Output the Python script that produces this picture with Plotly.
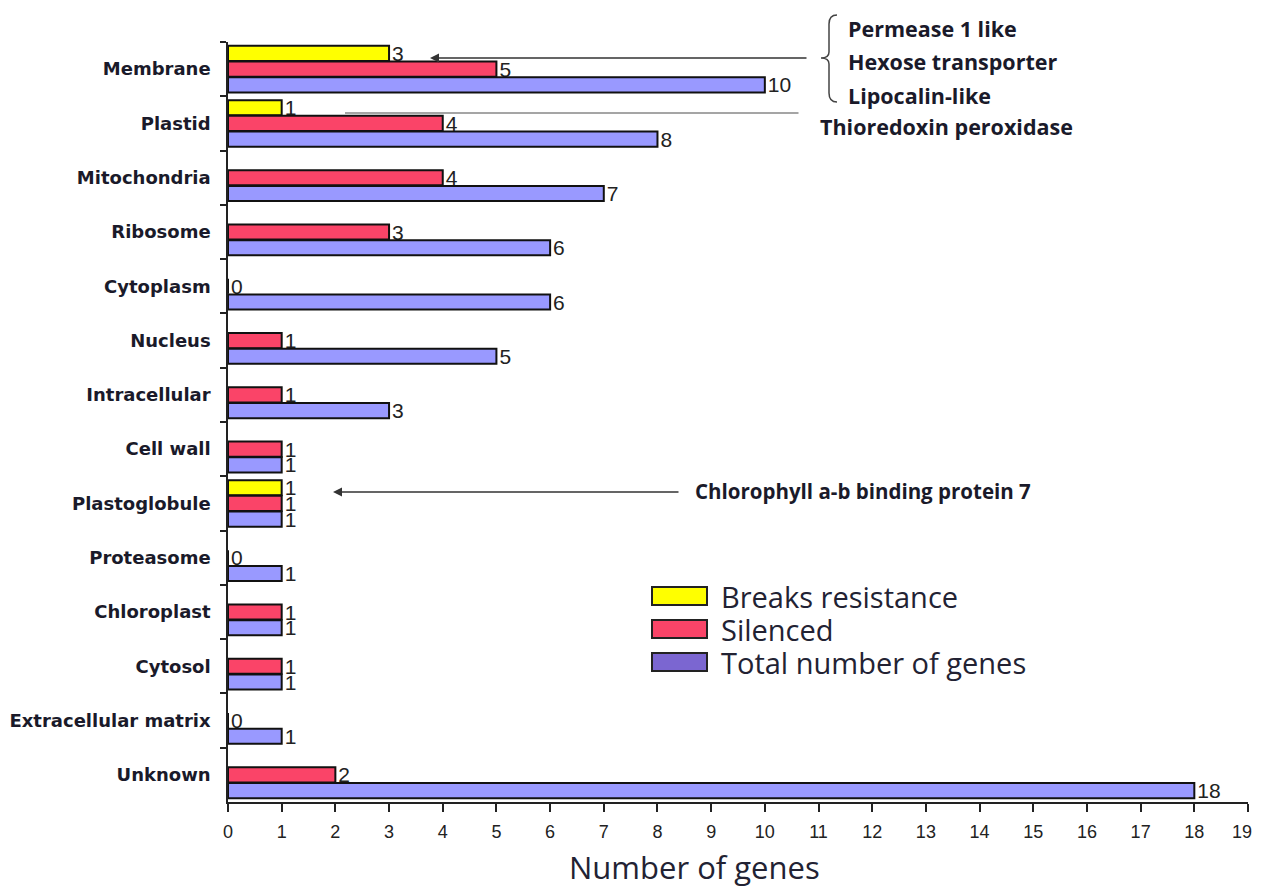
import plotly.graph_objects as go

categories = ["Membrane", "Plastid", "Mitochondria", "Ribosome", "Cytoplasm", "Nucleus",
              "Intracellular", "Cell wall", "Plastoglobule", "Proteasome", "Chloroplast",
              "Cytosol", "Extracellular matrix", "Unknown"]
breaks_resistance = [3, 1, None, None, None, None, None, None, 1, None, None, None, None, None]
silenced = [5, 4, 4, 3, 0, 1, 1, 1, 1, 0, 1, 1, 0, 2]
total_genes = [10, 8, 7, 6, 6, 5, 3, 1, 1, 1, 1, 1, 1, 18]
x_ticks = list(range(0, 20))

OFF = 8  # page body margin
W, H = 1263 - OFF, 890 - OFF
# plot area in page pixel coordinates
L, R, T, B = 228, 1248, 42, 802


def px(X):
    return (X - L) / (R - L)


def py(Y):
    return (B - Y) / (B - T)


series = [
    ("Breaks resistance", breaks_resistance, "#FFFF00"),
    ("Silenced", silenced, "#FA4468"),
    ("Total number of genes", total_genes, "#9999FF"),
]

fig = go.Figure()
for name, vals, col in series:
    fig.add_trace(go.Bar(
        y=categories, x=vals, orientation="h", name=name,
        marker=dict(color=col, line=dict(color="#111111", width=2)),
        text=[None if v is None else str(v) for v in vals],
        textposition="outside", textangle=0, constraintext="none",
        textfont=dict(family="Liberation Sans Narrow, Arial Narrow, Liberation Sans", size=21, color="#222222"),
        cliponaxis=False, showlegend=False,
    ))

tick_font = dict(family="Liberation Sans Narrow, Arial Narrow, Liberation Sans", size=18, color="#222222")
# last tick label drawn separately so it stays inside the visible page edge
tick_text = [str(t) for t in x_ticks[:-1]] + [""]

fig.update_layout(
    width=W, height=H,
    margin=dict(l=L - OFF, r=W - (R - OFF), t=T - OFF, b=H - (B - OFF), autoexpand=False),
    paper_bgcolor="white", plot_bgcolor="white",
    barmode="group", bargap=0.13, bargroupgap=0.04,
    showlegend=False,
)
fig.update_xaxes(
    range=[0, 19], tickvals=x_ticks, ticktext=tick_text,
    showline=True, linecolor="#222222", linewidth=1.5,
    ticks="outside", ticklen=8, tickwidth=1.5, tickcolor="#222222",
    showgrid=False, zeroline=False, automargin=False, ticklabeloverflow="allow",
    tickfont=tick_font, ticklabelstandoff=5,
)
fig.add_annotation(text=str(x_ticks[-1]), x=x_ticks[-1], y=py(832), xref="x", yref="paper",
                   showarrow=False, xanchor="right", yanchor="middle", xshift=6,
                   font=tick_font)
fig.update_yaxes(
    categoryorder="array", categoryarray=categories, autorange="reversed",
    showline=True, linecolor="#222222", linewidth=1.5,
    ticks="outside", ticklen=6, tickwidth=1.5, tickcolor="#222222", tickson="boundaries",
    showgrid=False, zeroline=False, automargin=False, ticklabeloverflow="allow",
    tickfont=dict(family="DejaVu Sans", size=18, color="#1a1a2a", weight="bold"),
    ticklabelstandoff=12,
)

# x-axis title
fig.add_annotation(text="Number of genes", x=px(694), y=py(867), xref="paper", yref="paper",
                   showarrow=False, font=dict(family="Open Sans", size=31, color="#222233"),
                   xanchor="center", yanchor="middle")

# custom legend
leg_colors = ["#FFFF00", "#FA4468", "#7B66D1"]
leg_names = [s[0] for s in series]
leg_y = [596, 629, 662]
for nm, c, yy in zip(leg_names, leg_colors, leg_y):
    fig.add_shape(type="rect", xref="paper", yref="paper",
                  x0=px(652), x1=px(707), y0=py(yy - 9), y1=py(yy + 9),
                  fillcolor=c, line=dict(color="#222222", width=2))
    fig.add_annotation(text=nm, x=px(719), y=py(yy), xref="paper", yref="paper",
                       showarrow=False, xanchor="left", yanchor="middle",
                       font=dict(family="Open Sans", size=29, color="#222233"))

# right annotations
for txt, xx, yy, sz in [("Permease 1 like", 846, 28, 21.5), ("Hexose transporter", 846, 62, 21.5),
                        ("Lipocalin-like", 846, 95, 21.5), ("Thioredoxin peroxidase", 818, 127, 21.5),
                        ("Chlorophyll a-b binding protein 7", 693, 491, 20.5)]:
    fig.add_annotation(text=txt, x=px(xx), y=py(yy), xref="paper", yref="paper",
                       showarrow=False, xanchor="left", yanchor="middle",
                       font=dict(family="Open Sans", size=sz, color="#1a1a2a", weight="bold"))

# brace
path = "M {} {} Q {} {} {} {} L {} {} Q {} {} {} {} Q {} {} {} {} L {} {} Q {} {} {} {}".format(
    px(837), py(15), px(829), py(15), px(829), py(24),
    px(829), py(52),
    px(829), py(58), px(821), py(58),
    px(829), py(58), px(829), py(64),
    px(829), py(93),
    px(829), py(102), px(837), py(102),
)
fig.add_shape(type="path", path=path, xref="paper", yref="paper",
              line=dict(color="#444444", width=1.5))

# arrows
fig.add_annotation(text="", x=px(430), y=py(58), xref="paper", yref="paper",
                   ax=378, ay=0, showarrow=True, arrowhead=2, arrowsize=1.2,
                   arrowwidth=1.5, arrowcolor="#333333")
fig.add_annotation(text="", x=px(345), y=py(113), xref="paper", yref="paper",
                   ax=455, ay=0, showarrow=True, arrowhead=0,
                   arrowwidth=1.5, arrowcolor="#888888")
fig.add_annotation(text="", x=px(333), y=py(492), xref="paper", yref="paper",
                   ax=347, ay=0, showarrow=True, arrowhead=2, arrowsize=1.2,
                   arrowwidth=1.5, arrowcolor="#333333")

fig.write_html("out.html")
